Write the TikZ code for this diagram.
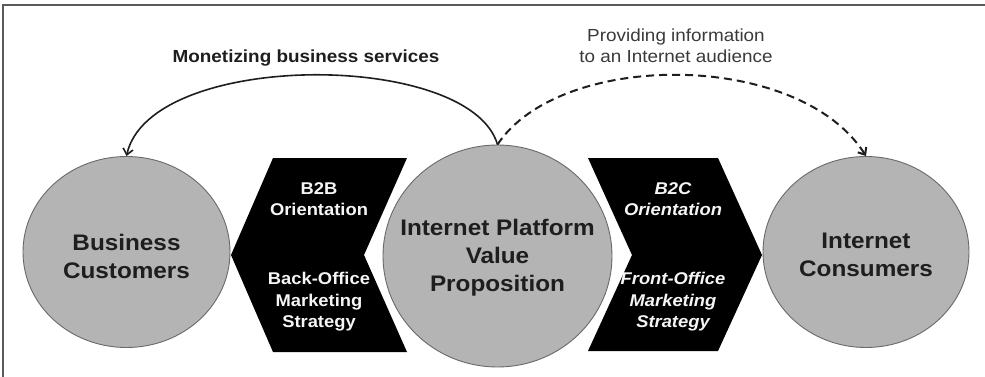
\documentclass[tikz,border=0pt]{standalone}
\usepackage{fontspec}
\setmainfont{Liberation Sans}[FakeStretch=1.08]
\usetikzlibrary{shapes.geometric,arrows.meta}
\definecolor{discgray}{HTML}{B4B4B4}
\definecolor{rimgray}{HTML}{6A6A6A}
\definecolor{inkgray}{HTML}{1E1E1E}
\definecolor{framegray}{HTML}{5A5A5A}
\definecolor{notegray}{HTML}{3A3A3A}
\tikzset{
    disc/.style={ellipse, draw=rimgray, line width=0.9pt, fill=discgray, inner sep=0pt},
    disctext/.style={align=center, text=inkgray, font=\fontsize{22.5}{28}\selectfont\bfseries},
    chevtext/.style={align=center, text=gray!8, font=\fontsize{17}{21.5}\selectfont\bfseries},
    flow/.style={line width=1.6pt, -{Straight Barb[length=6pt,width=10pt]}},
}

\begin{document}
\begin{tikzpicture}[x=1pt,y=-1pt]
    \useasboundingbox (0,0) rectangle (985,377);
    % Frame (top and left)
    \draw[framegray, line width=1.5pt] (3,377) -- (3,5) -- (985,5);

    % Circles
    \node[disc, minimum width=207pt, minimum height=191pt] (cust) at (126.5,252) {};
    \node[disc, minimum width=229pt, minimum height=222pt] (platform) at (497.5,256) {};
    \node[disc, minimum width=206pt, minimum height=191pt] (consum) at (866,252) {};
    \node[disctext] (custlabel) at (126.5,256) {Business\\Customers};
    \node[disctext] (platformlabel) at (497.5,258) {Internet Platform\\Value\\Proposition};
    \node[disctext] (consumlabel) at (866,255) {Internet\\Consumers};

    % Left chevron (B2B)
    \fill[black] (273,158) -- (407,158) -- (364,255) -- (407,352) -- (273,352) -- (231,255) -- cycle;
    \node[chevtext] (b2b) at (319,199) {B2B\\Orientation};
    \node[chevtext] (backoffice) at (319,302) {Back-Office\\Marketing\\Strategy};

    % Right chevron (B2C)
    \fill[black] (588,158) -- (718,158) -- (762,255) -- (718,351) -- (588,351) -- (632,255) -- cycle;
    \node[chevtext, font=\fontsize{17}{21.5}\selectfont\bfseries\itshape] (b2c) at (673,199) {B2C\\Orientation};
    \node[chevtext, font=\fontsize{17}{21.5}\selectfont\bfseries\itshape] (frontoffice) at (673,302) {Front-Office\\Marketing\\Strategy};

    % Arrows
    \node[text=inkgray, font=\fontsize{17.5}{21}\selectfont\bfseries] (monetize) at (306,58) {Monetizing business services};
    \draw[flow, inkgray] (platform.north) .. controls (470,50) and (150,50) .. (cust.north);
    \node[align=center, text=notegray, font=\fontsize{17.5}{21}\selectfont] (inform) at (676,45.5) {Providing information\\to an Internet audience};
    \draw[flow, inkgray, line width=2pt, dash pattern=on 8pt off 5pt] (platform.north) .. controls (560,50) and (799,50) .. (consum.north);
\end{tikzpicture}
\end{document}
